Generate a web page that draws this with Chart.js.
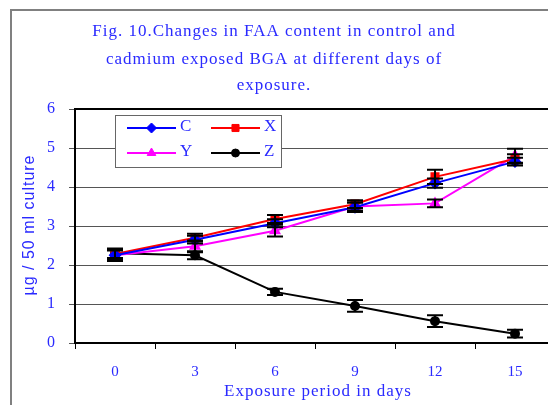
<!DOCTYPE html>
<html>
<head>
<meta charset="utf-8">
<script src="https://cdn.jsdelivr.net/npm/chart.js@4"></script>
<style>
  html, body { margin: 0; padding: 0; background: #fff; overflow: hidden; }
  #wrap { position: absolute; left: 0; top: 0; width: 562px; height: 405px; }
</style>
</head>
<body>
<div id="wrap"><canvas id="myChart" width="562" height="405"></canvas></div>
<script>
const days = ['0', '3', '6', '9', '12', '15'];
const valuesC = [2.25, 2.65, 3.07, 3.48, 4.1, 4.65];
const valuesX = [2.28, 2.7, 3.18, 3.56, 4.26, 4.72];
const valuesY = [2.25, 2.48, 2.88, 3.5, 3.58, 4.8];
const valuesZ = [2.3, 2.25, 1.31, 0.95, 0.56, 0.24];
const errC = [0.12, 0.1, 0.1, 0.12, 0.12, 0.1];
const errX = [0.12, 0.1, 0.1, 0.1, 0.18, 0.12];
const errY = [0.15, 0.15, 0.15, 0.1, 0.1, 0.18];
const errZ = [0.12, 0.1, 0.08, 0.15, 0.15, 0.1];
const yTicks = [0, 1, 2, 3, 4, 5, 6];

const blueText = '#2a2aff';
const serif = '"Liberation Serif", "DejaVu Serif", serif';

// error bars, black with wide caps
const errorBars = {
    id: 'errorBars',
    afterDatasetsDraw(chart) {
        const ctx = chart.ctx;
        const y = chart.scales.y;
        ctx.save();
        ctx.strokeStyle = '#000';
        ctx.lineWidth = 2;
        chart.data.datasets.forEach((ds, i) => {
            const meta = chart.getDatasetMeta(i);
            meta.data.forEach((pt, j) => {
                const e = ds.errors[j];
                const top = y.getPixelForValue(ds.data[j] + e);
                const bot = y.getPixelForValue(ds.data[j] - e);
                ctx.beginPath();
                ctx.moveTo(pt.x, top); ctx.lineTo(pt.x, bot);
                ctx.moveTo(pt.x - 8, top); ctx.lineTo(pt.x + 8, top);
                ctx.moveTo(pt.x - 8, bot); ctx.lineTo(pt.x + 8, bot);
                ctx.stroke();
            });
        });
        ctx.restore();
    }
};

// frame, title, axis titles, legend box
const decorations = {
    id: 'decorations',
    beforeDraw(chart) {
        const ctx = chart.ctx;
        ctx.save();
        ctx.fillStyle = '#fff';
        ctx.fillRect(0, 0, chart.width, chart.height);
        ctx.strokeStyle = '#808080';
        ctx.lineWidth = 2;
        ctx.beginPath();
        ctx.moveTo(11, chart.height); ctx.lineTo(11, 10); ctx.lineTo(chart.width, 10);
        ctx.stroke();
        ctx.restore();
    },
    afterDraw(chart) {
        const ctx = chart.ctx;
        const area = chart.chartArea;
        ctx.save();
        // top border of plot
        ctx.strokeStyle = '#000';
        ctx.lineWidth = 2;
        ctx.beginPath();
        ctx.moveTo(area.left, area.top); ctx.lineTo(area.right, area.top);
        ctx.stroke();

        ctx.fillStyle = blueText;
        ctx.textAlign = 'center';
        ctx.textBaseline = 'middle';
        ctx.letterSpacing = '1px';
        ctx.font = '17px ' + serif;
        ctx.fillText('Fig. 10.Changes in FAA content in control and', 274, 32);
        ctx.fillText('cadmium exposed BGA at different days of', 274, 60);
        ctx.fillText('exposure.', 274, 86);

        ctx.fillText('Exposure period in days', 318, 392);

        ctx.save();
        ctx.translate(30, 225);
        ctx.rotate(-Math.PI / 2);
        ctx.font = '16px "Liberation Sans", Arial, sans-serif';
        ctx.fillText('\u00b5g / 50 ml culture', 0, 0);
        ctx.restore();
        ctx.letterSpacing = '0px';

        // legend
        ctx.fillStyle = '#fff';
        ctx.fillRect(115, 115, 167, 53);
        ctx.strokeStyle = '#666';
        ctx.lineWidth = 1;
        ctx.strokeRect(115.5, 115.5, 166, 52);
        const items = [[0, 127, 128], [1, 211, 128], [2, 127, 153], [3, 211, 153]];
        items.forEach(([i, x, yy]) => {
            const ds = chart.data.datasets[i];
            ctx.strokeStyle = ds.borderColor;
            ctx.fillStyle = ds.borderColor;
            ctx.lineWidth = 2;
            ctx.beginPath();
            ctx.moveTo(x, yy); ctx.lineTo(x + 49, yy);
            ctx.stroke();
            ctx.lineWidth = 1;
            Chart.helpers.drawPoint(ctx, {
                pointStyle: ds.pointStyle, radius: ds.pointRadius, borderWidth: 1
            }, x + 24.5, yy);
            ctx.fillStyle = blueText;
            ctx.textAlign = 'left';
            ctx.font = '17px ' + serif;
            ctx.fillText(ds.label, x + 53, yy - 1);
        });
        ctx.restore();
    }
};

function series(label, data, errors, color, style, radius) {
    return {
        label, data, errors,
        borderColor: color,
        backgroundColor: color,
        pointBackgroundColor: color,
        pointBorderColor: color,
        pointStyle: style,
        pointRadius: radius,
        borderWidth: 2,
        tension: 0,
    };
}

const ctx = document.getElementById('myChart').getContext('2d');
const chart = new Chart(ctx, {
    type: 'line',
    data: {
        labels: days,
        datasets: [
            series('C', valuesC, errC, '#0000ff', 'rectRot', 5),
            series('X', valuesX, errX, '#ff0000', 'rect', 5),
            series('Y', valuesY, errY, '#ff00ff', 'triangle', 5),
            series('Z', valuesZ, errZ, '#000000', 'circle', 4),
        ],
    },
    options: {
        responsive: false,
        animation: false,
        layout: { padding: { left: 0, top: 109, right: 1, bottom: 0 } },
        plugins: {
            legend: { display: false },
            title: { display: false },
            tooltip: { enabled: false },
        },
        scales: {
            x: {
                type: 'category',
                offset: true,
                grid: {
                    offset: true,
                    drawOnChartArea: false,
                    color: '#000',
                    tickLength: 6,
                },
                border: { color: '#000', width: 2 },
                ticks: { color: blueText, font: { family: serif, size: 15 }, padding: 14 },
                afterFit(scale) { scale.height = 62; },
            },
            y: {
                min: 0,
                max: 6,
                afterBuildTicks(scale) { scale.ticks = yTicks.map(v => ({ value: v })); },
                grid: { color: '#555', lineWidth: 1, tickLength: 6 },
                border: { color: '#000', width: 2 },
                ticks: { color: blueText, font: { family: serif, size: 16 }, padding: 14 },
                afterFit(scale) { scale.width = 75; },
            },
        },
    },
    plugins: [decorations, errorBars],
});
</script>
</body>
</html>
